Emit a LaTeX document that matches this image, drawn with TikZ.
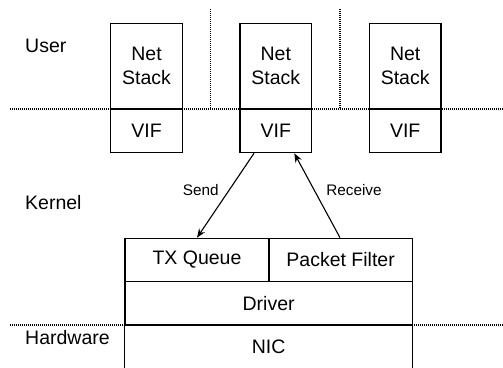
\documentclass[tikz,border=0pt]{standalone}
\usepackage{fontspec}
\setmainfont{Liberation Sans}
\usetikzlibrary{arrows.meta}
\begin{document}
\begin{tikzpicture}[x=1pt,y=-1pt,
  box/.style={draw,line width=1.2pt,rectangle,inner sep=0pt,align=center,font=\fontsize{19.5}{24}\selectfont},
  nobox/.style={rectangle,inner sep=0pt,align=center,font=\fontsize{19.5}{24}\selectfont},
  layer/.style={anchor=west,inner sep=0pt,font=\fontsize{19.5}{24}\selectfont},
  lbl/.style={inner sep=0pt,font=\fontsize{15.3}{18}\selectfont},
  sep/.style={line width=1.4pt,dash pattern=on 1pt off 1pt},
  arr/.style={line width=1.1pt,-{Stealth[length=9pt,width=7pt]}}]
\useasboundingbox (0,0) rectangle (503,367);
% separators
\draw[sep] (10,109) -- (503,109);
\draw[sep] (10,325) -- (503,325);
\draw[sep] (210.7,9) -- (210.7,109);
\draw[sep] (340,9) -- (340,109);
% layer labels
\node[layer] (user) at (25,46) {User};
\node[layer] (kernel) at (25,203) {Kernel};
\node[layer] (hw) at (25,338) {Hardware};
% net stacks
\foreach \i/\x in {1/146.5,2/275.8,3/405.2}{
  \node[box,minimum width=71.7pt,minimum height=85.7pt] (ns\i) at (\x,66.15) {Net\\Stack};
  \node[box,minimum width=71.7pt,minimum height=43.7pt] (vif\i) at (\x,130.85) {VIF};
}
% bottom block
\node[box,minimum width=144pt,minimum height=43.4pt] (tx) at (197,260) {TX Queue};
\node[box,minimum width=143.3pt,minimum height=43.4pt] (pf) at (340.65,260) {Packet Filter};
\node[box,minimum width=287.3pt,minimum height=43.3pt] (drv) at (268.65,303.35) {Driver};
\node[nobox,minimum width=287.3pt,minimum height=44pt] (nic) at (268.65,347) {NIC};
\draw[line width=1.2pt] (nic.north west) -- (nic.south west);
\draw[line width=1.2pt] (nic.north east) -- (nic.south east);
% arrows
\draw[arr] ([xshift=-21.8pt]vif2.south) -- (tx.north);
\draw[arr] ([xshift=-0.65pt]pf.north) -- ([xshift=18.5pt]vif2.south);
\node[lbl] (send) at (200.7,190) {Send};
\node[lbl] (recv) at (354,190) {Receive};
\end{tikzpicture}
\end{document}
